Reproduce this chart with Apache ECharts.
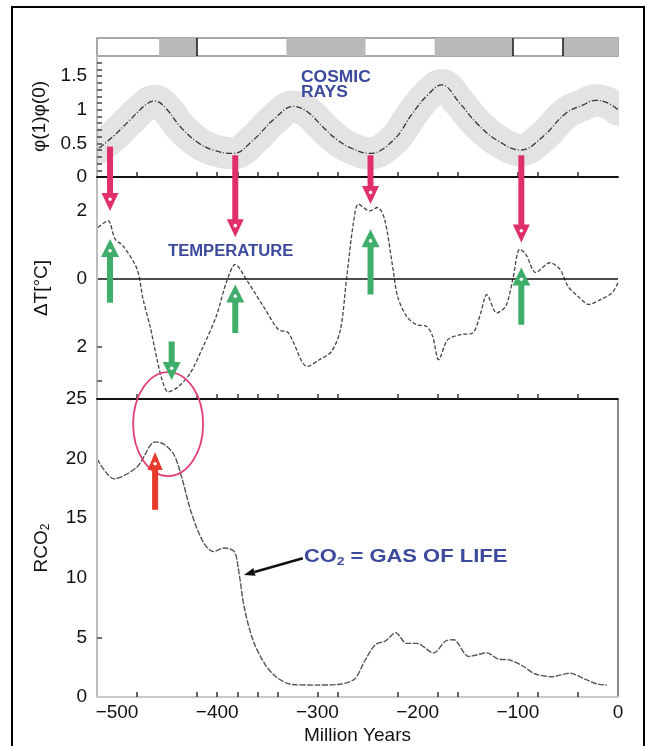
<!DOCTYPE html>
<html>
<head>
<meta charset="utf-8">
<script src="https://cdn.jsdelivr.net/npm/echarts@6/dist/echarts.min.js"></script>
<style>html,body{margin:0;padding:0;background:#fff}#c{width:651px;height:746px}</style>
</head>
<body>
<div id="c"></div>
<script>
// ---------- data ----------
const xMin = -520, xMax = 0;
const xTickLabels = [-500, -400, -300, -200, -100, 0];
const xMinorTicks = [-480, -420, -400, -380, -360, -340, -300, -280, -220, -180, -160, -100, -80, -40];

const stripStart = [-458, -331, -183, -55];
const stripEnd = [-420, -252, -105, 0];
const stripDividers = [-420, -105, -55];

const cosmicYears = [-518, -504, -487, -470, -462, -450, -437, -420, -404, -384, -364, -344, -324, -310, -295, -280, -265, -248, -224, -205, -190, -176, -158, -141, -121, -97, -75, -52, -35, -23, -10, 0];
const cosmicValues = [0.43, 0.60, 0.85, 1.09, 1.13, 1.00, 0.75, 0.52, 0.40, 0.35, 0.55, 0.85, 1.05, 0.97, 0.75, 0.55, 0.42, 0.35, 0.55, 0.95, 1.22, 1.37, 1.10, 0.80, 0.55, 0.40, 0.60, 0.95, 1.07, 1.14, 1.10, 1.00];
const cosmicTickLabels = [0, 0.5, 1, 1.5];
const cosmicMinorTicks = [0.1, 0.2, 0.3, 0.4, 0.5, 0.6, 0.7, 0.8, 0.9, 1.0, 1.1, 1.2, 1.3, 1.4, 1.5, 1.6, 1.7];

const tempYears = [-519, -509, -502, -494, -480, -474, -467, -460, -455, -449, -439, -427, -414, -401, -391, -382, -371, -352, -339, -329, -310, -298, -286, -277, -271, -264, -259, -248, -240, -233, -225, -220, -211, -201, -191, -185, -179, -170, -157, -145, -137, -131, -121, -112, -105, -98, -92, -82, -68, -58, -50, -40, -29, -17, -6, 0];
const tempValues = [1.51, 1.71, 1.17, 0.97, 0.28, -0.61, -1.41, -2.39, -2.99, -3.34, -3.19, -2.79, -2.00, -1.11, -0.12, 0.42, -0.02, -0.91, -1.50, -1.60, -2.59, -2.39, -2.15, -1.50, -0.02, 1.66, 2.20, 2.00, 2.10, 1.76, 0.37, -0.52, -1.11, -1.36, -1.41, -1.70, -2.39, -1.80, -1.65, -1.60, -1.01, -0.47, -1.01, -0.81, -0.02, 0.87, 0.72, 0.18, 0.47, 0.28, -0.22, -0.52, -0.76, -0.61, -0.42, -0.12];
const tempTickLabels = [-2, 0, 2];
const tempMinorTicks = [-3, -2];

const co2Years = [-520, -503, -480, -462, -453, -443, -435, -426, -414, -404, -393, -383, -379, -373, -364, -352, -340, -325, -302, -280, -263, -253, -242, -232, -222, -211, -201, -184, -172, -164, -149, -131, -120, -108, -95, -83, -66, -48, -33, -21, -11];
const co2Values = [20.0, 18.3, 19.3, 21.4, 21.2, 20.3, 18.3, 15.5, 13.0, 12.2, 12.5, 12.2, 10.8, 7.5, 4.7, 2.7, 1.6, 1.05, 1.0, 1.05, 1.5, 3.0, 4.4, 4.7, 5.4, 4.5, 4.5, 3.7, 4.7, 4.8, 3.4, 3.7, 3.2, 3.1, 2.6, 1.95, 1.7, 2.0, 1.5, 1.1, 1.0];
const co2TickLabels = [0, 5, 10, 15, 20, 25];

// annotation arrows (temperature-axis units)
const pinkArrowYears = [-507, -382, -247, -96.5];
const pinkArrowFrom = [3.9, 3.64, 3.64, 3.64];
const pinkArrowTo = [2.0, 1.22, 2.2, 1.07];
const greenArrowYears = [-507, -382, -247, -96.5, -445.5];
const greenArrowFrom = [-0.71, -1.60, -0.47, -1.36, -1.85];
const greenArrowTo = [1.17, -0.17, 1.46, 0.33, -2.99];
// CO2-axis units
const redArrowYear = -462, redArrowFrom = 15.7, redArrowTo = 20.55;
const ellipseYear = -449, ellipseValue = 22.9;
const pointerFrom = [-314.6, 11.64], pointerTo = [-373.4, 10.24];

// ---------- chart ----------
const FONT = '"Liberation Sans", Arial, sans-serif';
const pair = (xs, ys) => xs.map((x, i) => [x, ys[i]]);
const minus = v => (v < 0 ? '\u2212' + Math.abs(v) : String(v));

const L = 97, W = 521;
const grids = [
  { left: L, width: W, top: 38, height: 18, show: true, borderColor: '#8a8a8a', borderWidth: 1.5, backgroundColor: '#fff' },
  { left: L, width: W, top: 56, height: 121 },
  { left: L, width: W, top: 177, height: 222 },
  { left: L, width: W, top: 399, height: 300 }
];

function xAx(i, lineColor, showLabels) {
  return {
    gridIndex: i, type: 'value', min: xMin, max: xMax, position: 'bottom', z: 5,
    show: i !== 0,
    axisLine: { show: true, onZero: false, lineStyle: { color: lineColor, width: 1.8 } },
    axisTick: { show: true, inside: true, length: 5, customValues: xMinorTicks, lineStyle: { color: '#333', width: 1.5 } },
    axisLabel: showLabels ? { show: true, customValues: xTickLabels, formatter: minus, fontSize: 19, color: '#111', fontFamily: FONT, margin: 6 } : { show: false },
    splitLine: { show: false },
    name: showLabels ? 'Million Years' : '',
    nameLocation: 'middle', nameGap: 29,
    nameTextStyle: { fontSize: 19, color: '#111', fontFamily: FONT }
  };
}
function yAx(i, min, max, labels, ticks, name, gap, fmt, rich) {
  return {
    gridIndex: i, type: 'value', min: min, max: max, show: i !== 0, z: 5,
    axisLine: { show: true, onZero: false, lineStyle: { color: '#bdbdbd', width: 2 } },
    axisTick: { show: true, inside: true, length: 5, customValues: ticks, lineStyle: { color: '#444', width: 1.5 } },
    axisLabel: { show: true, customValues: labels, formatter: fmt, fontSize: 19, color: '#111', fontFamily: FONT, margin: 10 },
    splitLine: { show: false },
    name: name, nameLocation: 'middle', nameRotate: 90, nameGap: gap,
    nameTextStyle: { fontSize: 19, color: '#111', fontFamily: FONT, rich: rich }
  };
}

const chart = echarts.init(document.getElementById('c'), null, { renderer: 'canvas' });
const option = {
  animation: false,
  backgroundColor: '#fff',
  grid: grids,
  xAxis: [xAx(0, '#888', false), xAx(1, '#111', false), xAx(2, '#111', false), xAx(3, '#c8c8c8', true)],
  yAxis: [
    yAx(0, 0, 1, [], [], '', 0, v => v),
    yAx(1, 0, 1.8, cosmicTickLabels, cosmicMinorTicks, '\u03c6(1)\u03c6(0)', 44, v => String(v)),
    yAx(2, -3.55, 3, tempTickLabels, tempMinorTicks, '\u0394T[\u00b0C]', 46, v => String(Math.abs(v))),
    yAx(3, 0, 25, co2TickLabels, [5], '{a|RCO}{b|2}', 45, v => String(v),
      { a: { fontSize: 19, color: '#111', fontFamily: FONT }, b: { fontSize: 12, color: '#111', fontFamily: FONT, padding: [9, 0, 0, 0] } })
  ],
  series: [
    {
      type: 'custom', xAxisIndex: 0, yAxisIndex: 0,
      data: pair(stripStart, stripEnd),
      encode: { x: [0, 1] },
      renderItem: function (params, api) {
        const p0 = api.coord([api.value(0), 1]);
        const p1 = api.coord([api.value(1), 0]);
        return { type: 'rect', shape: { x: p0[0], y: p0[1], width: p1[0] - p0[0], height: p1[1] - p0[1] }, style: { fill: '#b9b9b9' } };
      },
      markLine: {
        silent: true, symbol: 'none', label: { show: false },
        lineStyle: { color: '#222', width: 1.6, type: 'solid' },
        data: stripDividers.map(v => ({ xAxis: v }))
      }
    },
    {
      type: 'line', xAxisIndex: 1, yAxisIndex: 1, data: pair(cosmicYears, cosmicValues),
      smooth: 0.4, symbol: 'none', z: 1,
      lineStyle: { color: '#e3e3e3', width: 32, cap: 'round', join: 'round' }
    },
    {
      type: 'line', xAxisIndex: 1, yAxisIndex: 1, data: pair(cosmicYears, cosmicValues),
      smooth: 0.4, symbol: 'none', z: 3,
      lineStyle: { color: '#333', width: 1.3, type: [6, 2, 1, 2] }
    },
    {
      type: 'line', xAxisIndex: 2, yAxisIndex: 2, data: pair(tempYears, tempValues),
      smooth: 0.3, symbol: 'none', z: 3,
      lineStyle: { color: '#444', width: 1.3, type: [4, 2] },
      markLine: {
        silent: true, symbol: 'none', label: { show: false },
        lineStyle: { color: '#111', width: 1.6, type: 'solid' },
        data: [{ yAxis: 0 }]
      }
    },
    {
      type: 'line', xAxisIndex: 3, yAxisIndex: 3, data: pair(co2Years, co2Values),
      smooth: 0.3, symbol: 'none', z: 3,
      lineStyle: { color: '#555', width: 1.4, type: [6, 1.5] },
      markLine: {
        silent: true, symbol: 'none', label: { show: false },
        lineStyle: { color: '#8a8a8a', width: 2, type: 'solid' },
        data: [{ xAxis: 0 }]
      }
    }
  ]
};
chart.setOption(option);

// ---------- annotations ----------
function px(grid, x, y) { return chart.convertToPixel({ gridIndex: grid }, [x, y]); }
function arrow(p0, p1, color, sw, hw, hl) {
  const x = p0[0], y0 = p0[1], y1 = p1[1];
  const d = Math.sign(y1 - y0);
  const yb = y1 - d * hl;
  return [{
    type: 'polygon', z: 100,
    shape: { points: [[x - sw / 2, y0], [x + sw / 2, y0], [x + sw / 2, yb], [x + hw / 2, yb], [x, y1], [x - hw / 2, yb], [x - sw / 2, yb]] },
    style: { fill: color }
  }, {
    type: 'circle', z: 101, shape: { cx: x, cy: yb + d * hl * 0.35, r: 1.8 }, style: { fill: '#fff' }
  }];
}
const G = [];
// masks hiding the thick cosmic band outside the plot (axes are drawn above)
const gTop = px(1, xMin, 1.8), gBot = px(1, xMax, 0);
G.push({ type: 'rect', z: 1, z2: 50, shape: { x: 13, y: gTop[1] - 20, width: gTop[0] - 14, height: gBot[1] - gTop[1] + 19 }, style: { fill: '#fff' } });
G.push({ type: 'rect', z: 1, z2: 50, shape: { x: gBot[0] + 1, y: gTop[1] - 20, width: 642 - gBot[0] - 1, height: gBot[1] - gTop[1] + 19 }, style: { fill: '#fff' } });
// frame
G.push({ type: 'rect', z: 200, shape: { x: 12, y: 7, width: 632, height: 800 }, style: { fill: 'none', stroke: '#000', lineWidth: 2 } });
pinkArrowYears.forEach((yr, i) => {
  G.push(...arrow(px(2, yr, pinkArrowFrom[i]), px(2, yr, pinkArrowTo[i]), '#e0306c', 6, 17, 18));
});
greenArrowYears.forEach((yr, i) => {
  G.push(...arrow(px(2, yr, greenArrowFrom[i]), px(2, yr, greenArrowTo[i]), '#3fae6a', 6, 18, 18));
});
G.push(...arrow(px(3, redArrowYear, redArrowFrom), px(3, redArrowYear, redArrowTo), '#e53a2c', 6, 15, 18));
// ellipse
const ec = px(3, ellipseYear, ellipseValue);
G.push({ type: 'ellipse', z: 99, shape: { cx: ec[0], cy: ec[1], rx: 35, ry: 52 }, style: { fill: 'none', stroke: '#e0407a', lineWidth: 1.8 } });
// pointer arrow
(function () {
  const tail = px(3, pointerFrom[0], pointerFrom[1]);
  const tip = px(3, pointerTo[0], pointerTo[1]);
  const ang = Math.atan2(tip[1] - tail[1], tip[0] - tail[0]);
  const hl = 11, hw = 8;
  const bx = tip[0] - hl * Math.cos(ang), by = tip[1] - hl * Math.sin(ang);
  const nx = -Math.sin(ang), ny = Math.cos(ang);
  G.push({ type: 'line', z: 100, shape: { x1: tail[0], y1: tail[1], x2: bx, y2: by }, style: { stroke: '#111', lineWidth: 2.5 } });
  G.push({ type: 'polygon', z: 100, shape: { points: [tip, [bx + nx * hw / 2, by + ny * hw / 2], [bx - nx * hw / 2, by - ny * hw / 2]] }, style: { fill: '#111' } });
})();
// texts
const BLUE = '#3b4a9c';
G.push({ type: 'text', z: 100, x: 301, y: 85, scaleX: 1.09,
  style: { text: 'COSMIC\nRAYS', x: 0, y: 0, font: 'bold 16px ' + FONT, fill: BLUE, lineHeight: 15, verticalAlign: 'middle', align: 'left' } });
G.push({ type: 'text', z: 100, x: 168, y: 252, scaleX: 1.04,
  style: { text: 'TEMPERATURE', x: 0, y: 0, font: 'bold 16px ' + FONT, fill: BLUE, verticalAlign: 'middle', align: 'left' } });
G.push({ type: 'text', z: 100, x: 304, y: 557, scaleX: 1.22,
  style: {
    text: '{a|CO}{b|2}{a| = GAS OF LIFE}', x: 0, y: 0, verticalAlign: 'middle', align: 'left',
    rich: {
      a: { fontSize: 18, fontWeight: 'bold', fontFamily: FONT, fill: BLUE, lineHeight: 22 },
      b: { fontSize: 11, fontWeight: 'bold', fontFamily: FONT, fill: BLUE, lineHeight: 12, padding: [9, 0, 0, 0] }
    }
  } });
chart.setOption({ graphic: G });
</script>
</body>
</html>
